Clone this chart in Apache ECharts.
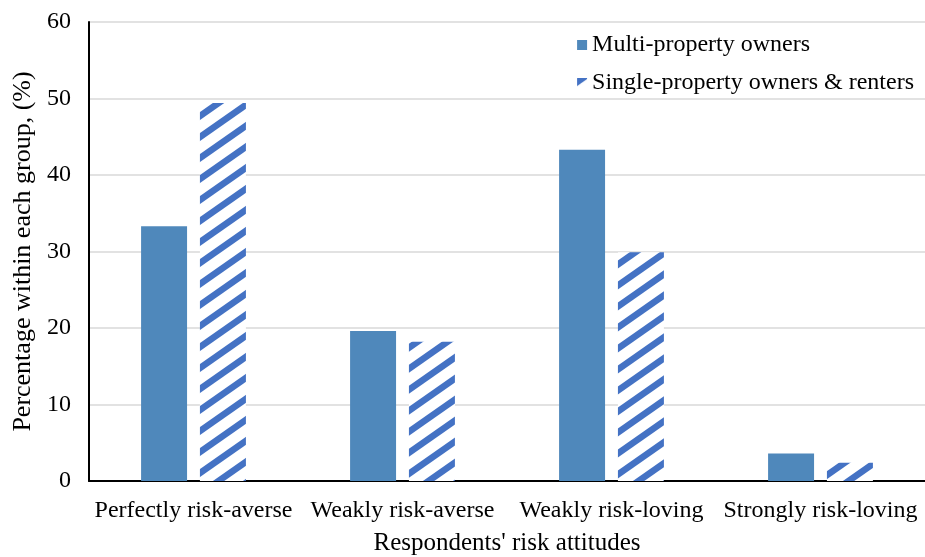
<!DOCTYPE html>
<html>
<head>
<meta charset="utf-8">
<script src="https://cdn.jsdelivr.net/npm/echarts@6/dist/echarts.min.js"></script>
<style>
  html, body { margin: 0; padding: 0; background: #fff; }
  #chart { width: 925px; height: 557px; }
</style>
</head>
<body>
<div id="chart"></div>
<script>
const categories = ['Perfectly risk-averse', 'Weakly risk-averse', 'Weakly risk-loving', 'Strongly risk-loving'];
const multiOwners = [33.3, 19.6, 43.3, 3.6];
const singleOwnersRenters = [49.4, 18.2, 29.9, 2.4];
const seriesNames = ['Multi-property owners', 'Single-property owners & renters'];
const yTicks = [0, 10, 20, 30, 40, 50, 60];

const FONT = '"Liberation Serif", "Times New Roman", serif';

// Upward diagonal hatching tile
function hatchPattern() {
  const w = 30, h = 21;
  const c = document.createElement('canvas');
  c.width = w; c.height = h;
  const ctx = c.getContext('2d');
  ctx.fillStyle = '#ffffff';
  ctx.fillRect(0, 0, w, h);
  ctx.fillStyle = '#4472c4';
  const t = 8; // vertical stripe thickness
  for (let k = -1; k <= 1; k++) {
    const oy = k * h;
    ctx.beginPath();
    ctx.moveTo(0, h + oy);
    ctx.lineTo(w, 0 + oy);
    ctx.lineTo(w, t + oy);
    ctx.lineTo(0, h + t + oy);
    ctx.closePath();
    ctx.fill();
  }
  return c;
}

const chart = echarts.init(document.getElementById('chart'), null, { renderer: 'canvas' });
chart.setOption({
  animation: false,
  backgroundColor: '#ffffff',
  textStyle: { fontFamily: FONT },
  grid: { left: 89, right: 0, top: 22, bottom: 76, containLabel: false, outerBoundsMode: 'none' },
  legend: {
    orient: 'vertical',
    right: 6,
    top: 28,
    itemWidth: 10,
    itemHeight: 10,
    itemGap: 14,
    icon: 'rect',
    textStyle: { fontFamily: FONT, fontSize: 24, color: '#000' },
    data: seriesNames
  },
  xAxis: {
    type: 'category',
    data: categories,
    name: "Respondents' risk attitudes",
    nameLocation: 'middle',
    nameGap: 50,
    nameTextStyle: { fontFamily: FONT, fontSize: 25, color: '#000' },
    axisLine: { lineStyle: { color: '#000', width: 2 } },
    axisTick: { show: false },
    axisLabel: { fontFamily: FONT, fontSize: 24, color: '#000', margin: 18, interval: 0 }
  },
  yAxis: {
    type: 'value',
    min: yTicks[0],
    max: yTicks[yTicks.length - 1],
    interval: 10,
    name: 'Percentage within each group, (%)',
    nameLocation: 'middle',
    nameGap: 47,
    nameTextStyle: { fontFamily: FONT, fontSize: 26, color: '#000' },
    axisLine: { show: true, lineStyle: { color: '#000', width: 2 } },
    axisTick: { show: false },
    axisLabel: { fontFamily: FONT, fontSize: 24, color: '#000', margin: 18 },
    splitLine: { lineStyle: { color: '#d9d9d9', width: 1.5 } }
  },
  series: [
    {
      name: seriesNames[0],
      type: 'bar',
      data: multiOwners,
      barWidth: '22%',
      barGap: '28%',
      itemStyle: { color: '#4f88bb' }
    },
    {
      name: seriesNames[1],
      type: 'bar',
      data: singleOwnersRenters,
      barWidth: '22%',
      barGap: '28%',
      itemStyle: { color: { image: hatchPattern(), repeat: 'repeat' } }
    }
  ]
});
</script>
</body>
</html>
